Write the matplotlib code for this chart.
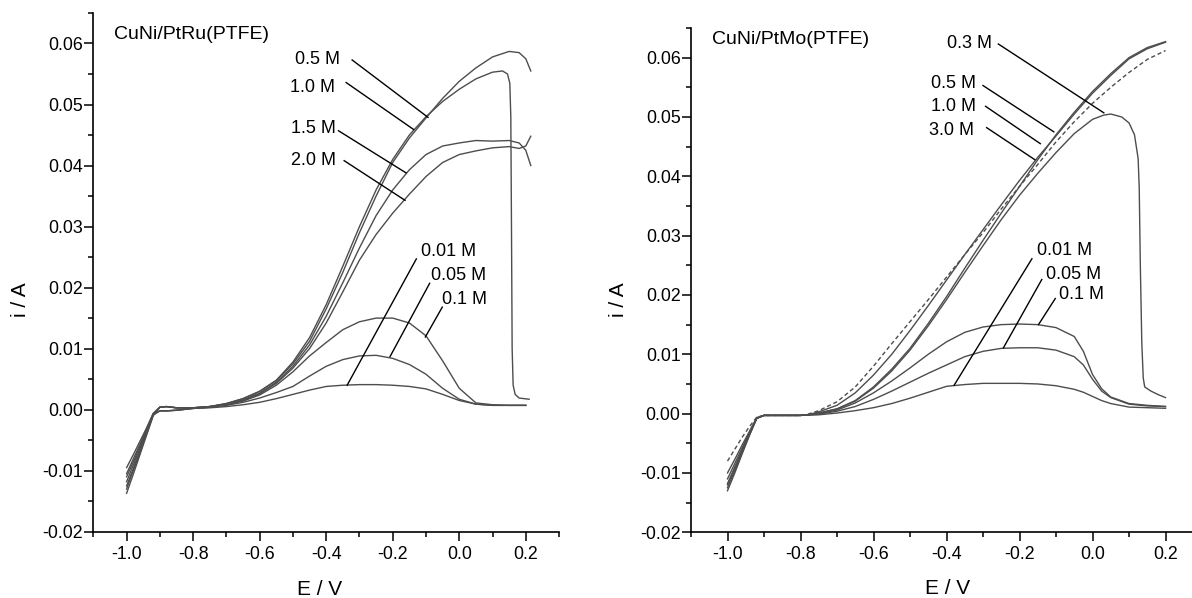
#!/usr/bin/env python3
import matplotlib
matplotlib.use("Agg")
from matplotlib import pyplot as plt
from matplotlib.ticker import MultipleLocator, FormatStrFormatter

plt.rcParams['font.family'] = ['Liberation Sans', 'DejaVu Sans']
plt.rcParams['axes.unicode_minus'] = False

# ---- left panel: CuNi/PtRu(PTFE) ----
E_ru_small = [-1.0, -0.98, -0.96, -0.94, -0.92, -0.90, -0.88, -0.85, -0.80, -0.75, -0.70, -0.65,
              -0.60, -0.55, -0.50, -0.45, -0.40, -0.35, -0.30, -0.25, -0.20, -0.15, -0.10, -0.05,
              0.00, 0.05, 0.10, 0.15, 0.20]
i_ru_001 = [-0.0118, -0.0091, -0.0064, -0.0036, -0.0008, -0.0002, -0.0002, -0.0001, 0.0002, 0.0003,
            0.0005, 0.0008, 0.0012, 0.0018, 0.0025, 0.0032, 0.0038, 0.0040, 0.0041, 0.0041, 0.0040,
            0.0038, 0.0034, 0.0025, 0.0015, 0.0009, 0.0007, 0.0007, 0.0007]
i_ru_005 = [-0.0130, -0.0100, -0.0070, -0.0040, -0.0009, -0.0002, -0.0002, -0.0001, 0.0002, 0.0004,
            0.0007, 0.0012, 0.0019, 0.0028, 0.0038, 0.0055, 0.0071, 0.0082, 0.0088, 0.0089, 0.0084,
            0.0074, 0.0058, 0.0035, 0.0017, 0.0009, 0.0007, 0.0007, 0.0007]
i_ru_01 = [-0.0105, -0.0081, -0.0057, -0.0032, -0.0007, -0.0002, -0.0002, -0.0001, 0.0002, 0.0004,
           0.0008, 0.0014, 0.0024, 0.0040, 0.0062, 0.0088, 0.0110, 0.0131, 0.0144, 0.0150, 0.0150,
           0.0142, 0.0121, 0.0080, 0.0035, 0.0011, 0.0008, 0.0007, 0.0007]

E_ru_big = [-1.0, -0.98, -0.96, -0.94, -0.92, -0.90, -0.88, -0.85, -0.80, -0.75, -0.70, -0.65,
            -0.60, -0.55, -0.50, -0.45, -0.40, -0.35, -0.30, -0.25, -0.20, -0.15, -0.10, -0.05,
            0.00, 0.05, 0.10, 0.15, 0.18, 0.20, 0.215]
i_ru_05 = [-0.0137, -0.0106, -0.0074, -0.0042, -0.0010, 0.0004, 0.0005, 0.0003, 0.0003, 0.0005,
           0.0010, 0.0018, 0.0030, 0.0048, 0.0075, 0.0112, 0.0165, 0.0225, 0.0290, 0.0350, 0.0405,
           0.0445, 0.0478, 0.0510, 0.0538, 0.0560, 0.0578, 0.0587, 0.0585, 0.0575, 0.0555]
i_ru_15 = [-0.0110, -0.0086, -0.0060, -0.0034, -0.0007, 0.0004, 0.0005, 0.0003, 0.0003, 0.0005,
           0.0009, 0.0016, 0.0027, 0.0045, 0.0071, 0.0106, 0.0153, 0.0208, 0.0265, 0.0318, 0.0360,
           0.0393, 0.0418, 0.0432, 0.0437, 0.0441, 0.0440, 0.0441, 0.0437, 0.0425, 0.0400]
i_ru_20 = [-0.0095, -0.0074, -0.0052, -0.0030, -0.0006, 0.0004, 0.0005, 0.0003, 0.0003, 0.0005,
           0.0009, 0.0015, 0.0026, 0.0043, 0.0068, 0.0100, 0.0142, 0.0193, 0.0245, 0.0287, 0.0322,
           0.0353, 0.0382, 0.0405, 0.0418, 0.0424, 0.0429, 0.0431, 0.0428, 0.0432, 0.0448]

E_ru_10 = [-1.0, -0.98, -0.96, -0.94, -0.92, -0.90, -0.88, -0.85, -0.80, -0.75, -0.70, -0.65,
           -0.60, -0.55, -0.50, -0.45, -0.40, -0.35, -0.30, -0.25, -0.20, -0.15, -0.10, -0.05,
           0.00, 0.05, 0.10, 0.13, 0.145, 0.152, 0.155, 0.157, 0.159, 0.162, 0.168, 0.18, 0.21]
i_ru_10 = [-0.0125, -0.0097, -0.0068, -0.0038, -0.0008, 0.0004, 0.0005, 0.0003, 0.0003, 0.0005,
           0.0010, 0.0018, 0.0030, 0.0048, 0.0078, 0.0118, 0.0172, 0.0235, 0.0300, 0.0360, 0.0410,
           0.0450, 0.0480, 0.0505, 0.0525, 0.0542, 0.0553, 0.0555, 0.0550, 0.0535, 0.0480, 0.0300,
           0.0100, 0.0040, 0.0025, 0.0019, 0.0017]

# ---- right panel: CuNi/PtMo(PTFE) ----
E_mo_small = [-1.0, -0.98, -0.96, -0.94, -0.92, -0.90, -0.85, -0.80, -0.75, -0.70, -0.65, -0.60,
              -0.55, -0.50, -0.45, -0.40, -0.35, -0.30, -0.25, -0.20, -0.15, -0.10, -0.05, -0.025,
              0.00, 0.025, 0.05, 0.10, 0.15, 0.20]
i_mo_001 = [-0.0125, -0.0096, -0.0066, -0.0036, -0.0008, -0.0003, -0.0003, -0.0003, -0.0002, 0.0001,
            0.0005, 0.0010, 0.0017, 0.0026, 0.0036, 0.0046, 0.0049, 0.0051, 0.0051, 0.0051, 0.0050,
            0.0047, 0.0041, 0.0036, 0.0029, 0.0022, 0.0017, 0.0011, 0.0010, 0.0009]
i_mo_005 = [-0.0118, -0.0090, -0.0062, -0.0034, -0.0008, -0.0003, -0.0003, -0.0003, -0.0001, 0.0004,
            0.0012, 0.0024, 0.0038, 0.0053, 0.0068, 0.0082, 0.0096, 0.0105, 0.0110, 0.0111, 0.0111,
            0.0107, 0.0096, 0.0082, 0.0058, 0.0038, 0.0027, 0.0016, 0.0013, 0.0012]
i_mo_01 = [-0.0110, -0.0084, -0.0058, -0.0032, -0.0007, -0.0003, -0.0003, -0.0003, 0.0000, 0.0006,
           0.0018, 0.0035, 0.0055, 0.0077, 0.0100, 0.0121, 0.0137, 0.0146, 0.0150, 0.0151, 0.0150,
           0.0145, 0.0130, 0.0105, 0.0066, 0.0042, 0.0028, 0.0017, 0.0014, 0.0012]

E_mo_big = [-1.0, -0.98, -0.96, -0.94, -0.92, -0.90, -0.85, -0.80, -0.78, -0.75, -0.70, -0.65,
            -0.60, -0.55, -0.50, -0.45, -0.40, -0.35, -0.30, -0.25, -0.20, -0.15, -0.10, -0.05,
            0.00, 0.05, 0.10, 0.15, 0.20]
i_mo_30 = [-0.0080, -0.0060, -0.0040, -0.0022, -0.0006, -0.0003, -0.0003, -0.0003, -0.0001, 0.0005,
           0.0020, 0.0045, 0.0080, 0.0118, 0.0155, 0.0192, 0.0230, 0.0268, 0.0305, 0.0345, 0.0383,
           0.0420, 0.0458, 0.0492, 0.0523, 0.0550, 0.0575, 0.0597, 0.0612]
i_mo_10 = [-0.0120, -0.0092, -0.0063, -0.0035, -0.0008, -0.0003, -0.0003, -0.0003, -0.0002, 0.0003,
           0.0014, 0.0035, 0.0065, 0.0100, 0.0140, 0.0182, 0.0225, 0.0268, 0.0310, 0.0352, 0.0393,
           0.0432, 0.0468, 0.0505, 0.0540, 0.0570, 0.0598, 0.0615, 0.0626]
i_mo_05 = [-0.0100, -0.0077, -0.0053, -0.0030, -0.0007, -0.0003, -0.0003, -0.0003, -0.0002, 0.0001,
           0.0008, 0.0022, 0.0045, 0.0075, 0.0110, 0.0152, 0.0197, 0.0245, 0.0292, 0.0338, 0.0383,
           0.0428, 0.0470, 0.0508, 0.0543, 0.0573, 0.0600, 0.0617, 0.0627]

E_mo_03 = [-1.0, -0.98, -0.96, -0.94, -0.92, -0.90, -0.85, -0.80, -0.78, -0.75, -0.70, -0.65,
           -0.60, -0.55, -0.50, -0.45, -0.40, -0.35, -0.30, -0.25, -0.20, -0.15, -0.10, -0.05,
           0.00, 0.03, 0.05, 0.08, 0.10, 0.115, 0.125, 0.128, 0.131, 0.135, 0.139, 0.143, 0.16,
           0.18, 0.20]
i_mo_03 = [-0.0130, -0.0100, -0.0068, -0.0037, -0.0008, -0.0003, -0.0003, -0.0003, -0.0002, 0.0001,
           0.0008, 0.0021, 0.0043, 0.0072, 0.0107, 0.0148, 0.0192, 0.0238, 0.0283, 0.0327, 0.0368,
           0.0405, 0.0440, 0.0472, 0.0496, 0.0503, 0.0505, 0.0500, 0.0490, 0.0470, 0.0430, 0.0380,
           0.0250, 0.0120, 0.0060, 0.0045, 0.0038, 0.0032, 0.0027]

# label text position, line start, line end (data coords)
labels_ru = [
    ("0.5 M", (-0.493, 0.0574), (-0.322, 0.0573), (-0.094, 0.0479)),
    ("1.0 M", (-0.508, 0.0528), (-0.340, 0.0536), (-0.137, 0.0459)),
    ("1.5 M", (-0.507, 0.0460), (-0.363, 0.0457), (-0.160, 0.0388)),
    ("2.0 M", (-0.507, 0.0409), (-0.346, 0.0408), (-0.163, 0.0343)),
    ("0.01 M", (-0.115, 0.0259), (-0.129, 0.0247), (-0.337, 0.0040)),
    ("0.05 M", (-0.085, 0.0220), (-0.089, 0.0207), (-0.208, 0.0087)),
    ("0.1 M", (-0.053, 0.0181), (-0.051, 0.0168), (-0.102, 0.0119)),
]
labels_mo = [
    ("0.3 M", (-0.400, 0.0624), (-0.258, 0.0623), (0.031, 0.0507)),
    ("0.5 M", (-0.443, 0.0556), (-0.300, 0.0553), (-0.106, 0.0475)),
    ("1.0 M", (-0.443, 0.0518), (-0.293, 0.0518), (-0.143, 0.0455)),
    ("3.0 M", (-0.447, 0.0477), (-0.290, 0.0482), (-0.158, 0.0428)),
    ("0.01 M", (-0.151, 0.0275), (-0.166, 0.0261), (-0.379, 0.0048)),
    ("0.05 M", (-0.128, 0.0235), (-0.139, 0.0226), (-0.244, 0.0111)),
    ("0.1 M", (-0.093, 0.0201), (-0.102, 0.0194), (-0.148, 0.0150)),
]

curve_col = "#4d4d4d"
fig = plt.figure(figsize=(11.92, 5.98), dpi=100)
ax1 = fig.add_axes([0.0783, 0.1109, 0.3907, 0.8674])
ax2 = fig.add_axes([0.5797, 0.1099, 0.4287, 0.8433])

for E, i in [(E_ru_small, i_ru_001), (E_ru_small, i_ru_005), (E_ru_small, i_ru_01),
             (E_ru_big, i_ru_05), (E_ru_big, i_ru_15), (E_ru_big, i_ru_20), (E_ru_10, i_ru_10)]:
    ax1.plot(E, i, color=curve_col, lw=1.0)

for E, i in [(E_mo_small, i_mo_001), (E_mo_small, i_mo_005), (E_mo_small, i_mo_01),
             (E_mo_big, i_mo_10), (E_mo_big, i_mo_05), (E_mo_03, i_mo_03)]:
    ax2.plot(E, i, color=curve_col, lw=1.0)
ax2.plot(E_mo_big, i_mo_30, color=curve_col, lw=1.0, ls=(0, (3, 2)))

for ax, labels in [(ax1, labels_ru), (ax2, labels_mo)]:
    for txt, tpos, p0, p1 in labels:
        ax.text(tpos[0], tpos[1], txt, fontsize=13, ha="left", va="center")
        ax.plot([p0[0], p1[0]], [p0[1], p1[1]], color="black", lw=1.0)

ax1.text(0.0445, 0.958, "CuNi/PtRu(PTFE)", transform=ax1.transAxes, fontsize=14,
         ha="left", va="center")
ax2.text(0.0405, 0.978, "CuNi/PtMo(PTFE)", transform=ax2.transAxes, fontsize=14,
         ha="left", va="center")

for ax, ylx, yly, xlx in [(ax1, -0.157, 0.447, 0.485), (ax2, -0.141, 0.461, 0.503)]:
    ax.set_xlim(-1.1, 0.3)
    ax.set_ylim(-0.02, 0.065)
    ax.spines["top"].set_visible(False)
    ax.spines["right"].set_visible(False)
    ax.spines["left"].set_linewidth(1.2)
    ax.spines["bottom"].set_linewidth(1.2)
    ax.xaxis.set_major_locator(MultipleLocator(0.2))
    ax.xaxis.set_minor_locator(MultipleLocator(0.1))
    ax.yaxis.set_major_locator(MultipleLocator(0.01))
    ax.yaxis.set_minor_locator(MultipleLocator(0.005))
    ax.xaxis.set_major_formatter(FormatStrFormatter("%.1f"))
    ax.yaxis.set_major_formatter(FormatStrFormatter("%.2f"))
    ax.tick_params(axis="both", which="major", direction="out", length=6.5, width=1.1, labelsize=12.8)
    ax.tick_params(axis="both", which="minor", direction="out", length=3.5, width=1.1)
    ax.tick_params(axis="x", which="major", pad=3.5)
    ax.tick_params(axis="y", which="major", pad=1)
    ax.set_xlabel("E / V", fontsize=15)
    ax.set_ylabel("i / A", fontsize=15)
    ax.xaxis.set_label_coords(xlx, -0.112)
    ax.yaxis.set_label_coords(ylx, yly)
    ax.xaxis.label.set_verticalalignment("center")
    ax.yaxis.label.set_verticalalignment("center")

plt.savefig("out.png", dpi=100)
